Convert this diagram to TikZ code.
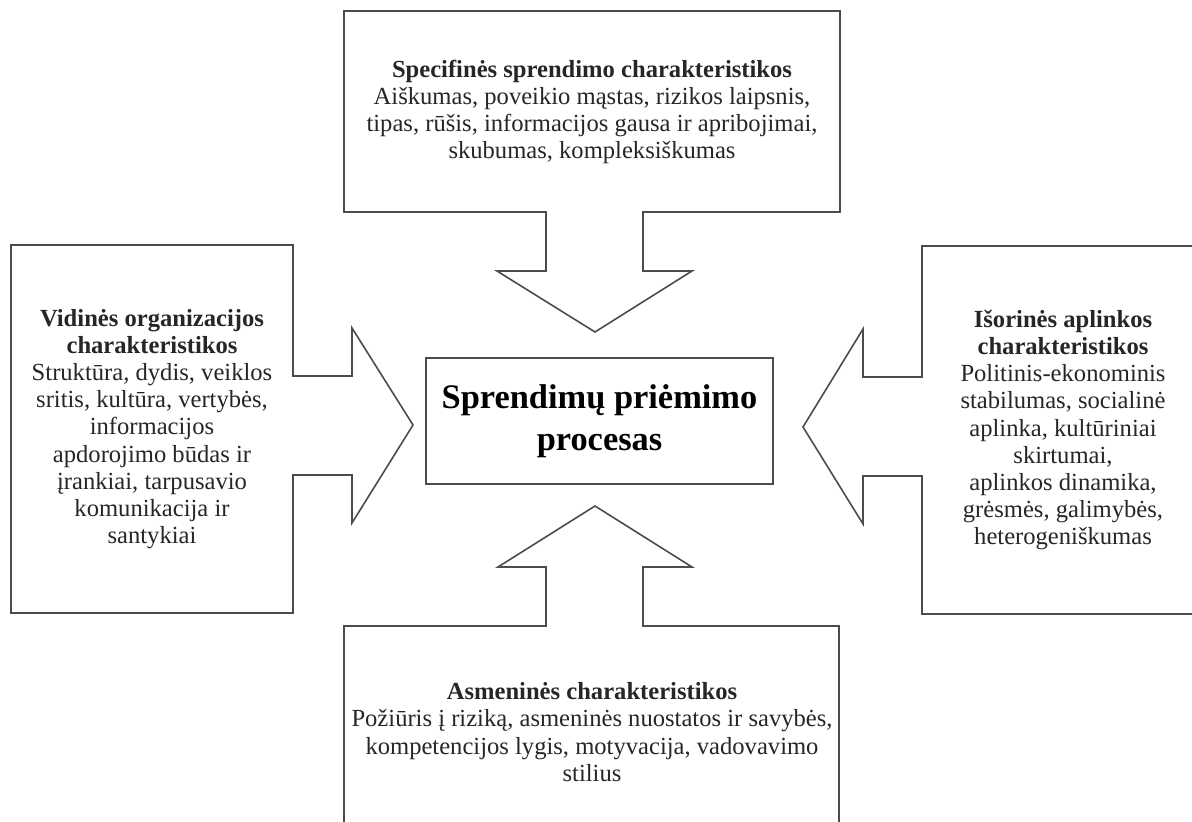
\documentclass[tikz,border=0pt]{standalone}
\usepackage{fontspec}
\setmainfont{Liberation Serif}
\usetikzlibrary{positioning}

\begin{document}
\begin{tikzpicture}[x=0.5pt, y=-0.5pt,
        outline/.style={draw=black!70, line width=0.8pt, line join=miter},
        txt/.style={align=center, inner sep=0pt, text=black!85,
                    font=\fontsize{12.3}{13.6}\selectfont},
        core/.style={rectangle, draw=black!70, line width=0.8pt,
                     minimum width=173.5pt, minimum height=63pt, align=center,
                     font=\fontsize{17.2}{21}\selectfont\bfseries}]
      \useasboundingbox (0,0) rectangle (1192,822);
      \clip (0,0) rectangle (1192,822);
      \draw[outline] (344,11) -- (840,11) -- (840,212) -- (643,212) -- (643,271) -- (692,271)
                     -- (595,332) -- (497,271) -- (546,271) -- (546,212) -- (344,212) -- cycle;
      \draw[outline] (11,245) -- (293,245) -- (293,376) -- (352,376) -- (352,328) -- (413,425)
                     -- (352,523) -- (352,475) -- (293,475) -- (293,613) -- (11,613) -- cycle;
      \draw[outline] (1204,246) -- (922,246) -- (922,377) -- (863,377) -- (863,329) -- (803,427)
                     -- (863,524) -- (863,476) -- (922,476) -- (922,614) -- (1204,614) -- cycle;
      \draw[outline] (344,840) -- (344,626) -- (546,626) -- (546,567) -- (498,567) -- (595,506)
                     -- (692,567) -- (643,567) -- (643,626) -- (839,626) -- (839,840) -- cycle;
      \node[core] (proc) at (599.5,421) {Sprendimų priėmimo\\ procesas};
      \node[txt] (spec) at (592,112) {\textbf{Specifinės sprendimo charakteristikos}\\
                       Aiškumas, poveikio mąstas, rizikos laipsnis,\\
                       tipas, rūšis, informacijos gausa ir apribojimai,\\
                       skubumas, kompleksiškumas};
      \node[txt] (vid) at (152,429) {\textbf{Vidinės organizacijos}\\ \textbf{charakteristikos}\\
                       Struktūra, dydis, veiklos\\ sritis, kultūra, vertybės,\\ informacijos\\
                       apdorojimo būdas ir\\ įrankiai, tarpusavio\\ komunikacija ir\\ santykiai};
      \node[txt] (isor) at (1063,430) {\textbf{Išorinės aplinkos}\\ \textbf{charakteristikos}\\
                       Politinis-ekonominis\\ stabilumas, socialinė\\ aplinka, kultūriniai\\ skirtumai,\\
                       aplinkos dinamika,\\ grėsmės, galimybės,\\ heterogeniškumas};
      \node[txt] (asm) at (592,732) {\textbf{Asmeninės charakteristikos}\\
                       Požiūris į riziką, asmeninės nuostatos ir savybės,\\
                       kompetencijos lygis, motyvacija, vadovavimo\\ stilius};
    \end{tikzpicture}
\end{document}
